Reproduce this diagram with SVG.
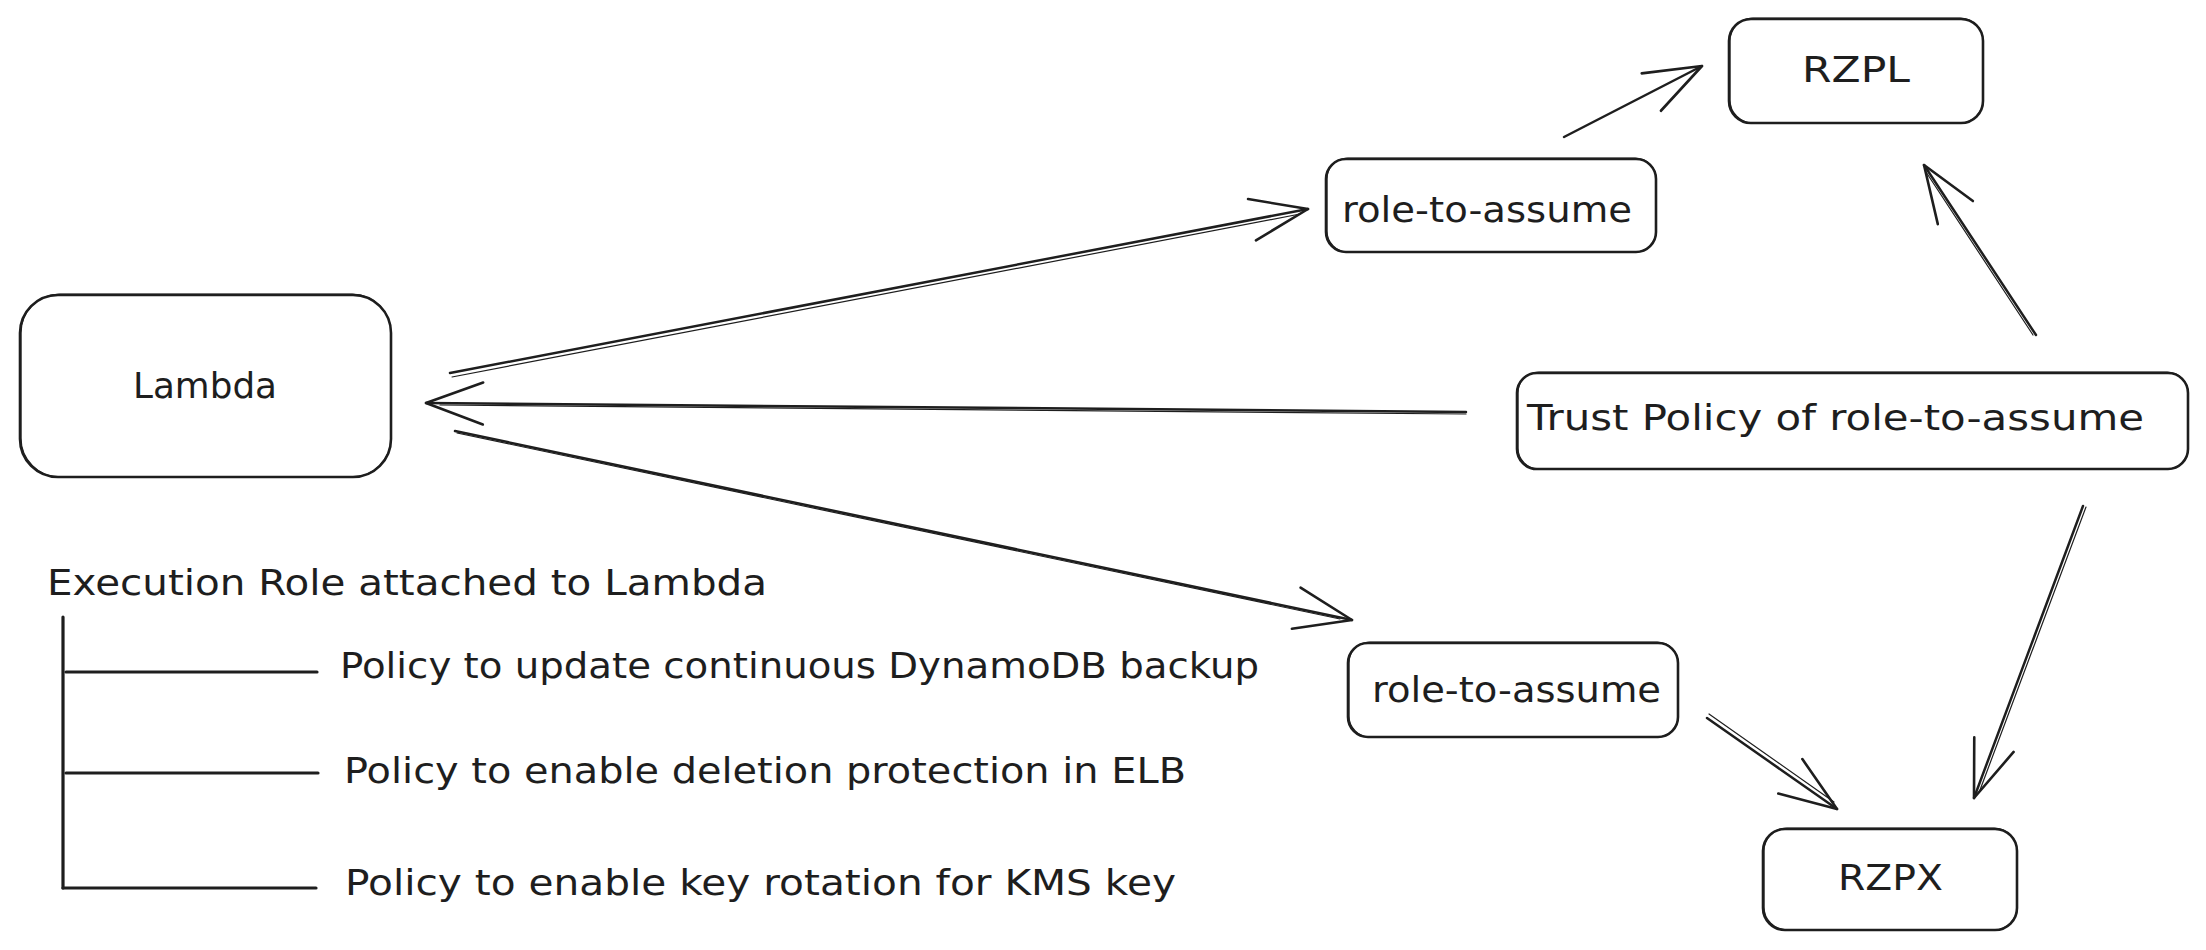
<svg xmlns="http://www.w3.org/2000/svg" width="2206" height="950" viewBox="0 0 2206 950">
  <defs>
    <style>
      .box { fill: #ffffff; stroke: #1e1e1e; stroke-width: 2.6; }
      .box2 { fill: none; stroke: #1e1e1e; stroke-width: 1.2; }
      .lbl { font-family: "DejaVu Sans", "Liberation Sans", sans-serif; font-size: 36px; fill: #1e1e1e; }
      .edge { fill: none; stroke: #1e1e1e; stroke-width: 2.5; stroke-linecap: round; }
      .edge2 { fill: none; stroke: #1e1e1e; stroke-width: 1.2; stroke-linecap: round; }
      .tree { fill: none; stroke: #1e1e1e; stroke-width: 3.2; stroke-linecap: round; }
    </style>
    <marker id="arr" markerUnits="userSpaceOnUse" markerWidth="70" markerHeight="50" refX="60" refY="25" orient="auto" overflow="visible">
      <path d="M3,4 L60,25 L3,46" fill="none" stroke="#1e1e1e" stroke-width="2.6" stroke-linecap="round" stroke-linejoin="round"/>
    </marker>
  </defs>
  <rect width="2206" height="950" fill="#ffffff"/>

  <g id="connectors">
    <!-- Lambda -> role-to-assume (top) -->
    <path class="edge" d="M450,373 L1308,209" marker-end="url(#arr)"/>
    <path class="edge2" d="M452,377 L1300,214"/>
    <!-- Trust Policy -> Lambda -->
    <path class="edge" d="M1466,412 L426,403" marker-end="url(#arr)"/>
    <path class="edge2" d="M1466,414 L440,405"/>
    <!-- Lambda -> role-to-assume (bottom) -->
    <path class="edge" d="M455,431 L1352,620" marker-end="url(#arr)"/>
    <path class="edge2" d="M457,433 L1340,619"/>
    <!-- role-to-assume (top) -> RZPL -->
    <path class="edge" d="M1564,137 L1702,66" marker-end="url(#arr)"/>
    <!-- Trust Policy -> RZPL -->
    <path class="edge" d="M2036,335 L1924,165" marker-end="url(#arr)"/>
    <path class="edge2" d="M2033,335 L1926,172"/>
    <!-- role-to-assume (bottom) -> RZPX -->
    <path class="edge" d="M1707,718 L1837,809" marker-end="url(#arr)"/>
    <path class="edge2" d="M1709,714 L1834,802"/>
    <!-- Trust Policy -> RZPX -->
    <path class="edge" d="M2083,506 L1974,798" marker-end="url(#arr)"/>
    <path class="edge2" d="M2086,507 L1980,790"/>
  </g>

  <g id="lambda">
    <rect class="box" x="20" y="295" width="371" height="182" rx="38"/>
    <rect class="box2" x="21" y="294" width="370" height="183" rx="39"/>
    <text class="lbl" x="133" y="398" textLength="144" lengthAdjust="spacingAndGlyphs">Lambda</text>
  </g>

  <g id="role-top">
    <rect class="box" x="1326" y="159" width="330" height="93" rx="20"/>
    <rect class="box2" x="1327" y="158" width="329" height="94" rx="21"/>
    <text class="lbl" x="1342" y="222" textLength="290" lengthAdjust="spacingAndGlyphs">role-to-assume</text>
  </g>

  <g id="rzpl">
    <rect class="box" x="1729" y="19" width="254" height="104" rx="22"/>
    <rect class="box2" x="1730" y="18" width="253" height="105" rx="23"/>
    <text class="lbl" x="1802" y="82" textLength="108" lengthAdjust="spacingAndGlyphs">RZPL</text>
  </g>

  <g id="trust-policy">
    <rect class="box" x="1517" y="373" width="671" height="96" rx="20"/>
    <rect class="box2" x="1518" y="372" width="670" height="97" rx="21"/>
    <text class="lbl" x="1527" y="430" textLength="617" lengthAdjust="spacingAndGlyphs">Trust Policy of role-to-assume</text>
  </g>

  <g id="role-bottom">
    <rect class="box" x="1348" y="643" width="330" height="94" rx="20"/>
    <rect class="box2" x="1349" y="642" width="329" height="95" rx="21"/>
    <text class="lbl" x="1372" y="702" textLength="289" lengthAdjust="spacingAndGlyphs">role-to-assume</text>
  </g>

  <g id="rzpx">
    <rect class="box" x="1763" y="829" width="254" height="101" rx="22"/>
    <rect class="box2" x="1764" y="828" width="253" height="102" rx="23"/>
    <text class="lbl" x="1838" y="890" textLength="105" lengthAdjust="spacingAndGlyphs">RZPX</text>
  </g>

  <g id="execution-role">
    <text class="lbl" x="47" y="595" textLength="720" lengthAdjust="spacingAndGlyphs">Execution Role attached to Lambda</text>
    <path class="tree" d="M63,617 L63,888"/>
    <path class="tree" d="M66,672 L317,672"/>
    <path class="tree" d="M66,773 L318,773"/>
    <path class="tree" d="M63,888 L316,888"/>
  </g>

  <g id="policy-dynamodb">
    <text class="lbl" x="340" y="678" textLength="919" lengthAdjust="spacingAndGlyphs">Policy to update continuous DynamoDB backup</text>
  </g>
  <g id="policy-elb">
    <text class="lbl" x="344" y="783" textLength="842" lengthAdjust="spacingAndGlyphs">Policy to enable deletion protection in ELB</text>
  </g>
  <g id="policy-kms">
    <text class="lbl" x="345" y="895" textLength="831" lengthAdjust="spacingAndGlyphs">Policy to enable key rotation for KMS key</text>
  </g>
</svg>
